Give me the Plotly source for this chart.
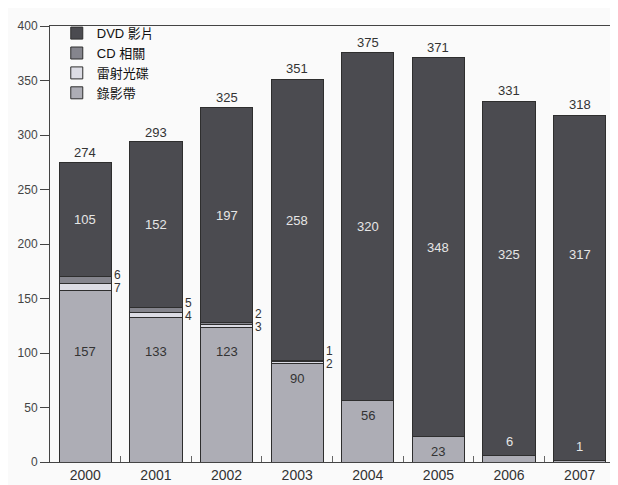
import plotly.graph_objects as go

# Yearly sales by format (stacked bottom -> top: 錄影帶, 雷射光碟, CD 相關, DVD 影片)
YEARS = ["2000", "2001", "2002", "2003", "2004", "2005", "2006", "2007"]
VIDEOTAPE = [157, 133, 123, 90, 56, 23, 6, 1]
LASERDISC = [7, 4, 3, 2, 0, 0, 0, 0]
CD = [6, 5, 2, 1, 0, 0, 0, 0]
DVD = [105, 152, 197, 258, 320, 348, 325, 317]
TOTALS = [274, 293, 325, 351, 375, 371, 331, 318]

NAMES = {"dvd": "DVD 影片", "cd": "CD 相關", "ld": "雷射光碟", "vt": "錄影帶"}
COLOURS = {"dvd": "#4b4b50", "cd": "#85858d", "ld": "#dcdce4", "vt": "#adadb5"}

FONT = "Liberation Sans, Arial, Noto Sans CJK TC, sans-serif"
DARK_TXT = "#333333"
LIGHT_TXT = "#e6e6e6"

fig = go.Figure()
for key, vals in [("vt", VIDEOTAPE), ("ld", LASERDISC), ("cd", CD), ("dvd", DVD)]:
    fig.add_trace(go.Bar(
        x=YEARS, y=vals, name=NAMES[key],
        marker=dict(color=COLOURS[key], line=dict(color="#2e2e2e", width=1)),
        width=0.74,
    ))

ann = []
for i, yr in enumerate(YEARS):
    vt, ld, cd, dvd = VIDEOTAPE[i], LASERDISC[i], CD[i], DVD[i]
    base = vt + ld + cd
    # total on top
    ann.append(dict(x=i, y=TOTALS[i], text=str(TOTALS[i]), showarrow=False,
                    yanchor="bottom", yshift=1, font=dict(size=13, color=DARK_TXT)))
    # DVD value
    ann.append(dict(x=i, y=max(base + dvd / 2, 190), text=str(dvd), showarrow=False,
                    font=dict(size=13, color=LIGHT_TXT)))
    # videotape value
    if vt >= 15:
        ann.append(dict(x=i, y=min(vt - 13, 101), text=str(vt), showarrow=False,
                        font=dict(size=13, color=DARK_TXT)))
    else:
        ann.append(dict(x=i, y=vt + 13, text=str(vt), showarrow=False,
                        font=dict(size=13, color=LIGHT_TXT)))
    # small segments labelled at the right of the bar
    if ld or cd:
        ycen = vt + ld / 2
        ann.append(dict(x=i + 0.38, y=ycen, yshift=-1, text=str(ld), showarrow=False,
                        xanchor="left", font=dict(size=12, color=DARK_TXT)))
        ann.append(dict(x=i + 0.38, y=ycen, yshift=12, text=str(cd), showarrow=False,
                        xanchor="left", font=dict(size=12, color=DARK_TXT)))

# page body has an 8px margin, so margins are shifted to keep the plot in place
fig.update_layout(
    width=618, height=485,
    barmode="stack",
    bargap=0.26,
    margin=dict(l=36, r=10, t=14, b=29),
    plot_bgcolor="#fafafa",
    paper_bgcolor="#fafafa",
    font=dict(family=FONT, color=DARK_TXT, size=12),
    annotations=ann,
    showlegend=True,
    legend=dict(
        traceorder="reversed",
        x=0.012, y=1.018, xanchor="left", yanchor="top",
        bgcolor="rgba(0,0,0,0)",
        font=dict(size=13, color="#111111"),
        itemwidth=30, tracegroupgap=0,
    ),
)
fig.update_yaxes(
    range=[0, 400], tickvals=[0, 50, 100, 150, 200, 250, 300, 350, 400],
    showgrid=False, zeroline=False,
    showline=True, linecolor="#444444", linewidth=1, mirror=True,
    ticks="outside", ticklen=9, tickcolor="#444444",
    tickfont=dict(size=12, color="#444444"),
)
fig.update_xaxes(
    type="category", range=[-0.5, 7.5],
    showgrid=False,
    showline=True, linecolor="#444444", linewidth=1, mirror=True,
    ticks="inside", tickson="boundaries", ticklen=6, tickcolor="#666666",
    tickfont=dict(size=14, color="#333333"),
)

fig.write_html("out.html")
